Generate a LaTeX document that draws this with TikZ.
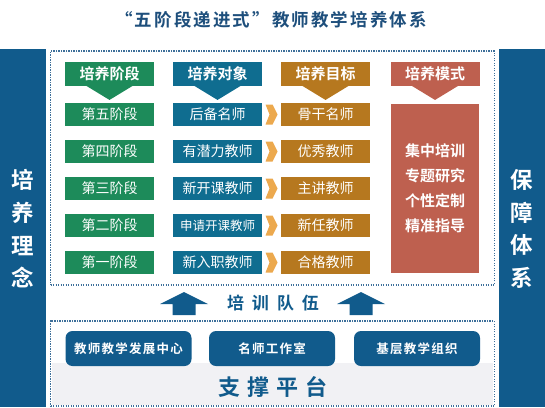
\documentclass[tikz,border=0pt]{standalone}
\usepackage{fontspec}
\setmainfont{Noto Sans CJK SC}[BoldFont={Noto Sans CJK SC Bold}]
\newfontfamily\titlefont{Noto Sans CJK SC Bold}[LetterSpace=12]
\newfontfamily\platfont{Noto Sans CJK SC Bold}[LetterSpace=10]
\usetikzlibrary{calc}
\definecolor{barblue}{HTML}{115B8C}
\definecolor{dotblue}{HTML}{3D6F9A}
\definecolor{stagegreen}{HTML}{1D8B5A}
\definecolor{targetblue}{HTML}{0F6D90}
\definecolor{goalbrown}{HTML}{B6781F}
\definecolor{modered}{HTML}{BE604F}
\definecolor{chevorange}{HTML}{ECA94E}
\definecolor{panelgray}{HTML}{F1F1F4}
\definecolor{titleblue}{HTML}{1E4F7C}
\begin{document}
\begin{tikzpicture}[x=1pt,y=-1pt,
  box/.style={minimum width=89pt,minimum height=23.5pt,inner sep=0pt,text=white,
    font=\fontsize{14}{14}\selectfont},
  headbox/.style={box,font=\bfseries\fontsize{15}{15}\selectfont},
  sidetext/.style={text=white,align=center,inner sep=0pt,
    font=\bfseries\fontsize{22.5}{32.7}\selectfont},
  dotbox/.style={draw=dotblue,line width=1.3pt,dash pattern=on 1.3pt off 1.2pt,inner sep=0pt},
  platbox/.style={fill=barblue,rounded corners=7pt,minimum width=126pt,minimum height=35pt,
    inner sep=0pt,text=white,font=\platfont\fontsize{12.5}{12.5}\selectfont},
  bigtext/.style={text=barblue,font=\bfseries\fontsize{17}{17}\selectfont}]
\useasboundingbox (0,0) rectangle (545,407);

% title
\node[text=titleblue,font=\titlefont\fontsize{17.5}{17.5}\selectfont] (title) at (271,20) {“五阶段递进式”教师教学培养体系};

% side bars
\fill[barblue] (0,49) rectangle (46,407);
\fill[barblue] (499,49) rectangle (545,407);
\node[sidetext] (idea) at (23,229) {培\\养\\理\\念};
\node[sidetext] (guard) at (522,229) {保\\障\\体\\系};

% frames
\fill[panelgray] (52,363) rectangle (493,405);
\node[dotbox,minimum width=443.8pt,minimum height=234pt] (frame) at (272.4,168) {};
\node[dotbox,minimum width=443.8pt,minimum height=85pt] (base) at (272.4,363.5) {};

% headers with down triangles
\foreach \x/\c/\t [count=\i] in {109.5/stagegreen/培养阶段,217.5/targetblue/培养对象,
    325.5/goalbrown/培养目标,435/modered/培养模式} {
  \node[headbox,fill=\c] (h\i) at (\x,74) {\t};
  \fill[\c] ($(h\i.south)+(-23,0)$) -- ($(h\i.south)+(23,0)$) -- ($(h\i.south)+(0,14)$) -- cycle;
}

% rows
\foreach \a/\b/\g [count=\i] in {第五阶段/后备名师/骨干名师,第四阶段/有潜力教师/优秀教师,
    第三阶段/新开课教师/主讲教师,第二阶段/{\fontsize{12.5}{12.5}\selectfont 申请开课教师}/新任教师,
    第一阶段/新入职教师/合格教师} {
  \node[box,fill=stagegreen] (s\i) at (109.5,{114.5+37*(\i-1)}) {\a};
  \node[box,fill=targetblue] (o\i) at (217.5,{114.5+37*(\i-1)}) {\b};
  \node[box,fill=goalbrown] (g\i) at (325.5,{114.5+37*(\i-1)}) {\g};
  \coordinate (m\i) at ($(o\i.east)!0.5!(g\i.west)$);
  \fill[chevorange] ($(m\i)+(-6,-10)$) -- ++(7,0) -- ++(5,10) -- ++(-5,10) -- ++(-7,0) -- ++(4,-10) -- cycle;
}

% mode box
\node[box,fill=modered,minimum width=88pt,minimum height=169pt,align=center,
  font=\bfseries\fontsize{15}{25}\selectfont] (mode) at (435,188)
  {集中培训\\专题研究\\个性定制\\精准指导};

% up arrows
\coordinate (u1) at (184,315);
\coordinate (u2) at (361,315);
\foreach \u in {u1,u2}
  \fill[barblue] (\u) +(-11.5,0) -- +(-11.5,-11) -- +(-24,-11) -- +(0,-23) -- +(24,-11) -- +(11.5,-11) -- +(11.5,0) -- cycle;
\node[bigtext] (team) at (273,303) {培\kern8pt训\kern8pt队\kern8pt伍};

% platform
\node[platbox] (p1) at (128.5,348.5) {教师教学发展中心};
\node[platbox] (p2) at (272,348.5) {名师工作室};
\node[platbox] (p3) at (417,348.5) {基层教学组织};
\node[bigtext,font=\bfseries\fontsize{22}{22}\selectfont] (plat) at (273,387) {支\kern7pt撑\kern7pt平\kern7pt台};
\end{tikzpicture}
\end{document}
